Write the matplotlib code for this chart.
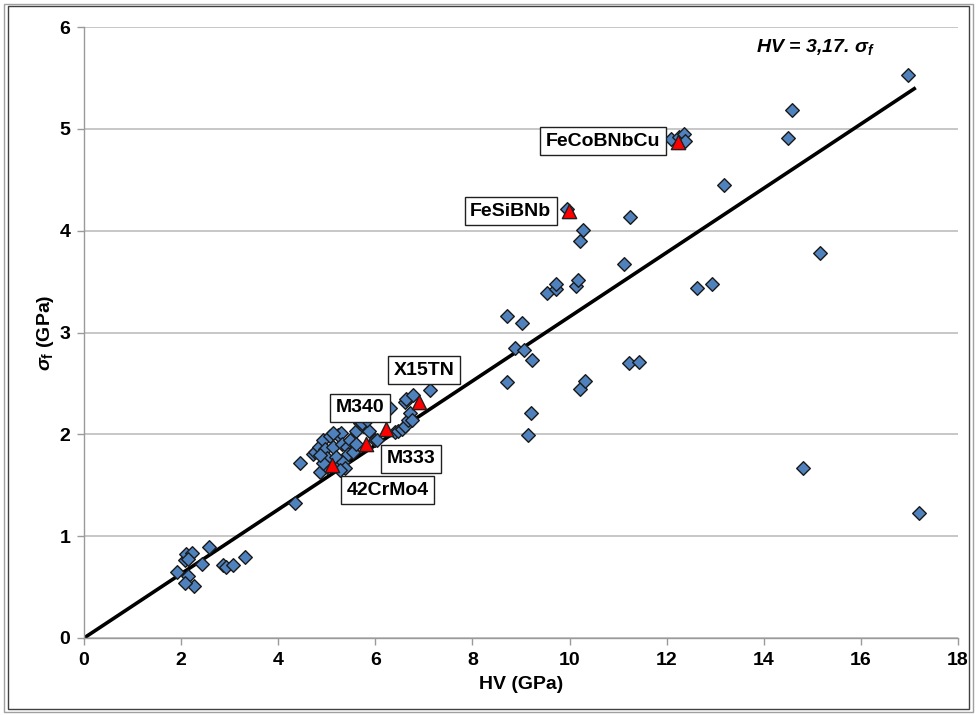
import matplotlib
matplotlib.use("Agg")
import matplotlib.pyplot as plt
import numpy as np
from matplotlib.patches import Rectangle

plt.rcParams['font.family'] = ['Liberation Sans', 'DejaVu Sans']
plt.rcParams['mathtext.fontset'] = 'custom'
plt.rcParams['mathtext.rm'] = 'Liberation Sans:bold'
plt.rcParams['mathtext.it'] = 'Liberation Sans:italic:bold'
plt.rcParams['mathtext.bf'] = 'Liberation Sans:bold'

# Literature data (blue diamonds): HV (GPa), fracture strength (GPa)
hv_lit = [1.91, 2.08, 2.10, 2.15, 2.22, 2.27, 2.42, 2.58, 2.08, 2.87, 2.92, 3.07, 3.32, 2.15,
          4.34, 4.45, 4.72, 4.76, 4.83, 4.86, 4.93, 4.96, 5.00, 5.07, 5.13, 5.20, 5.24, 5.24,
          5.30, 5.31, 5.34, 5.37, 5.41, 5.44, 5.48, 5.54, 5.61, 5.61, 5.68, 5.75, 5.86, 5.99,
          5.00, 4.93, 4.86, 5.13, 5.27, 5.72, 5.82, 6.03, 6.30, 6.40, 6.47, 6.54, 6.61, 6.68,
          6.71, 6.75, 6.61, 6.64, 6.78, 7.13,
          8.72, 9.03, 8.88, 9.07, 9.22, 8.72, 9.15, 9.20, 9.53, 9.72, 9.73, 10.14, 10.18,
          10.21, 10.27, 10.21, 10.32, 11.12, 11.24, 11.23, 11.43, 9.95,
          12.10, 12.25, 12.35, 12.38, 13.19, 12.63, 12.94, 14.50, 14.58, 15.16, 14.81,
          16.97, 17.19]
sf_lit = [0.65, 0.77, 0.82, 0.61, 0.83, 0.51, 0.73, 0.89, 0.54, 0.72, 0.70, 0.72, 0.80, 0.78,
          1.33, 1.72, 1.81, 1.83, 1.88, 1.63, 1.94, 1.86, 1.77, 1.98, 1.88, 1.78, 1.99, 1.68,
          2.01, 1.91, 1.73, 1.67, 1.88, 1.81, 1.94, 1.83, 2.03, 1.91, 2.11, 2.08, 2.03, 1.94,
          1.68, 1.72, 1.80, 2.01, 1.65, 2.11, 2.14, 1.94, 2.26, 2.02, 2.03, 2.05, 2.08, 2.14,
          2.21, 2.14, 2.32, 2.35, 2.39, 2.44,
          3.16, 3.09, 2.85, 2.83, 2.73, 2.51, 1.99, 2.21, 3.39, 3.43, 3.48, 3.46, 3.52,
          3.90, 4.01, 2.45, 2.52, 3.67, 4.13, 2.70, 2.71, 4.21,
          4.90, 4.92, 4.95, 4.88, 4.45, 3.44, 3.48, 4.91, 5.19, 3.78, 1.67,
          5.53, 1.23]

# Materials of this study (red triangles)
names = ['42CrMo4', 'M333', 'M340', 'X15TN', 'FeSiBNb', 'FeCoBNbCu']
hv_own = [5.10, 5.81, 6.23, 6.89, 9.99, 12.24]
sf_own = [1.70, 1.91, 2.05, 2.32, 4.19, 4.87]
label_x = [6.26, 6.73, 5.68, 7.00, 8.79, 10.69]
label_y = [1.45, 1.76, 2.26, 2.63, 4.19, 4.88]

# Fit: HV = 3.17 * sigma_f
slope = 3.17
hv_fit = [0.0, 17.1]

fig = plt.figure(figsize=(9.77, 7.15), dpi=100)
ax = fig.add_axes([0.086, 0.1077, 0.8945, 0.8545])

ax.set_xlim(0, 18)
ax.set_ylim(0, 6)
ax.set_xticks(np.arange(0, 19, 2))
ax.set_yticks(np.arange(0, 7, 1))
ax.yaxis.grid(True, color='#bdbdbd', linewidth=1.2)
ax.set_axisbelow(True)
for s in ['top', 'right']:
    ax.spines[s].set_visible(False)
for s in ['left', 'bottom']:
    ax.spines[s].set_color('#9a9a9a')
    ax.spines[s].set_linewidth(1.0)
ax.tick_params(axis='both', direction='out', length=5, color='#9a9a9a', width=1.0,
               labelsize=14, pad=5)
for lab in ax.get_xticklabels() + ax.get_yticklabels():
    lab.set_fontweight('bold')

xf = np.array(hv_fit)
ax.plot(xf, xf / slope, color='black', linewidth=2.6, zorder=2)

ax.scatter(hv_lit, sf_lit, marker='D', s=48, facecolor='#4F81BD', edgecolor='#1a1a1a',
           linewidth=1.0, zorder=3)
ax.scatter(hv_own, sf_own, marker='^', s=105, facecolor='#FF0000', edgecolor='#202020',
           linewidth=1.0, zorder=4)

for n, lx, ly in zip(names, label_x, label_y):
    ax.text(lx, ly, n, fontsize=14, fontweight='bold', ha='center', va='center', zorder=5,
            bbox=dict(boxstyle='square,pad=0.28', facecolor='white', edgecolor='#202020',
                      linewidth=1.0))

ax.text(13.84, 5.80, r'HV = 3,17. $\sigma_f$', fontsize=14, fontweight='bold',
        fontstyle='italic', ha='left', va='center')

ax.set_xlabel('HV (GPa)', fontsize=14, fontweight='bold', labelpad=5)
ax.set_ylabel(r'$\sigma_\mathrm{f}$ (GPa)', fontsize=14, fontweight='bold', labelpad=2)

# figure border (double frame)
fig.patches.append(Rectangle((0.004, 0.004), 0.992, 0.991, transform=fig.transFigure,
                             fill=False, edgecolor='#a0a0a0', linewidth=1.0))
fig.patches.append(Rectangle((0.008, 0.008), 0.984, 0.983, transform=fig.transFigure,
                             fill=False, edgecolor='#404040', linewidth=1.0))

fig.savefig('out.png', dpi=100)
